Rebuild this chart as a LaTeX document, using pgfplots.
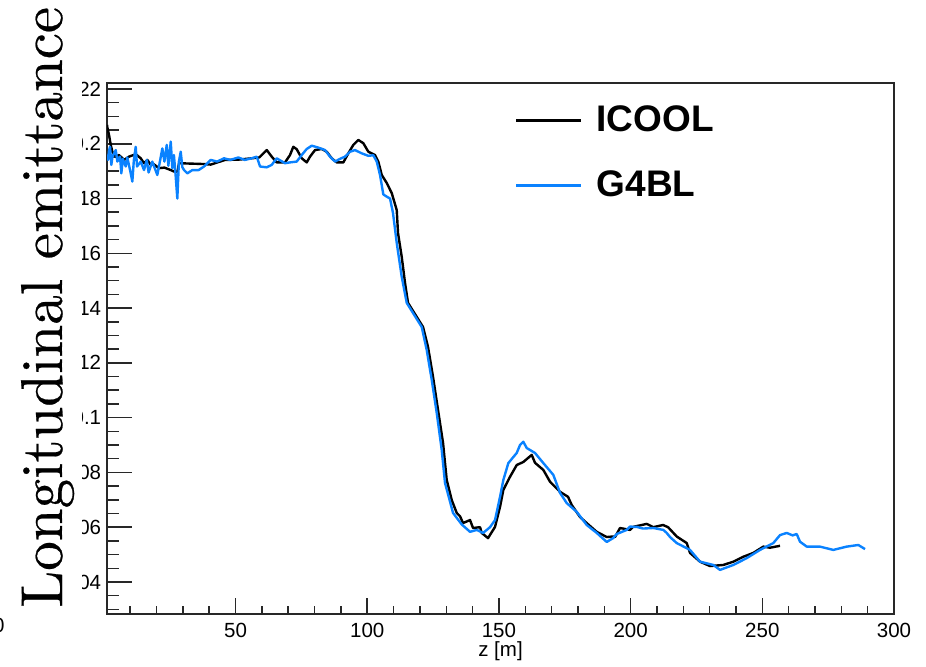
\documentclass[border=0pt]{standalone}
\usepackage{fontspec}
\usepackage{pgfplots}
\pgfplotsset{compat=1.18}
\newfontfamily\helv{Liberation Sans}
\newfontfamily\lmten[FakeBold=0.4]{lmroman10-regular.otf}
\definecolor{gblue}{RGB}{10,130,255}
\definecolor{frame}{RGB}{40,40,40}

\begin{document}
\begin{tikzpicture}[x=1pt,y=1pt]
\begin{axis}[
  at={(53.5pt,26.5pt)}, anchor=south west,
  scale only axis, width=393.5pt, height=265.5pt,
  xmin=1.2, xmax=300, ymin=0.0283, ymax=0.2222,
  axis line style={frame, line width=0.75pt},
  tick align=inside,
  ytick pos=left, xtick=\empty,
  ytick={0.04,0.06,0.08,0.10,0.12,0.14,0.16,0.18,0.20,0.22},
  yticklabels={0.04,0.06,0.08,0.1,0.12,0.14,0.16,0.18,0.2,0.22},
  minor ytick={0.03,0.035,0.045,0.05,0.055,0.065,0.07,0.075,0.085,0.09,0.095,0.105,0.11,0.115,0.125,0.13,0.135,0.145,0.15,0.155,0.165,0.17,0.175,0.185,0.19,0.195,0.205,0.21,0.215},
  major tick length=12.5pt, minor tick length=6pt,
  tick style={frame, line width=0.75pt},
  yticklabel style={font=\helv\fontsize{10.25}{12}\selectfont, inner sep=0pt, xshift=-2.75pt},
  legend cell align=left,
  legend style={at={(0.518,0.957)}, anchor=north west, draw=none, fill=none,
    inner sep=0pt, outer sep=0pt, row sep=18pt, column sep=7pt,
    nodes={inner sep=0pt},
    font=\helv\bfseries\fontsize{18.5}{20}\selectfont},
  legend image code/.code={\draw[#1, line width=1.5pt] (0pt,0pt) -- (32.5pt,0pt);},
]
\addplot[black, line width=1.2pt, line join=round] coordinates {
(1.21,0.2069) (1.33,0.2060) (1.97,0.2032) (2.62,0.1996) (3.23,0.1971) (4.52,0.1953)
(5.77,0.1959) (7.67,0.1941) (9.57,0.1953) (12.11,0.1962) (14.01,0.1947) (15.26,0.1929)
(16.51,0.1941) (17.81,0.1923) (19.0,0.1925) (20.96,0.1911) (23.0,0.1913) (25.40,0.1904)
(27.30,0.1896) (28.0,0.1900) (28.55,0.1929) (38.04,0.1926) (40.58,0.1924) (46.01,0.1941)
(51.06,0.1942) (56.15,0.1947) (59.0,0.1950) (61.85,0.1977) (63.74,0.1953) (65.64,0.1932)
(68.79,0.1932) (70.69,0.1959) (71.94,0.1989) (73.23,0.1980) (75.13,0.1947) (77.03,0.1932)
(78.28,0.1953) (80.18,0.1977) (82.73,0.1981) (84.62,0.1971) (86.52,0.1947) (88.42,0.1932)
(90.93,0.1932) (92.82,0.1965) (94.72,0.1996) (96.62,0.2014) (98.52,0.2002) (100.42,0.1971)
(102.96,0.1959) (104.21,0.1935) (105.51,0.1886) (107.40,0.1857) (109.30,0.1820) (111.20,0.1758)
(111.69,0.1674) (113.10,0.1587) (114.35,0.1492) (115.49,0.1419) (118.79,0.1368) (121.18,0.1331)
(123.08,0.1258) (124.98,0.1149) (126.88,0.1028) (128.78,0.0908) (130.18,0.0772) (132.08,0.0699)
(133.98,0.0652) (135.23,0.0640) (136.37,0.0615) (139.03,0.0626) (140.17,0.0597) (142.83,0.0600)
(143.47,0.0579) (145.86,0.0560) (148.52,0.0601) (150.42,0.0674) (151.67,0.0736) (154.21,0.0784)
(156.76,0.0827) (159.26,0.0838) (162.45,0.0864) (163.70,0.0835) (166.86,0.0809) (169.40,0.0766)
(173.20,0.0729) (176.23,0.0711) (177.64,0.0681) (180.79,0.0637) (183.33,0.0615) (187.13,0.0583)
(190.93,0.0564) (193.32,0.0566) (194.08,0.0564) (195.98,0.0597) (199.77,0.0590) (200.91,0.0601)
(206.11,0.0612) (208.62,0.0600) (212.30,0.0608) (214.20,0.0600) (217.50,0.0566) (221.30,0.0542)
(222.55,0.0506) (226.35,0.0474) (230.14,0.0458) (235.19,0.0462) (238.99,0.0474) (242.79,0.0492)
(246.58,0.0506) (250.38,0.0529) (252.92,0.0525) (256.72,0.0532)
};
\addlegendentry{ICOOL}
\addplot[gblue, line width=1.2pt, line join=round] coordinates {
(1.21,0.1960) (1.59,0.1941) (1.97,0.1975) (2.35,0.1989) (2.85,0.1923) (3.23,0.1950)
(3.61,0.1959) (4.52,0.1977) (5.13,0.1935) (6.15,0.1953) (6.64,0.1892) (7.2,0.1945)
(8.31,0.1917) (8.9,0.1950) (9.95,0.1904) (10.82,0.1862) (11.4,0.1941) (12.11,0.1989)
(12.6,0.1917) (14.01,0.1935) (15.26,0.1904) (16.3,0.1941) (17.0,0.1895) (18.4,0.1935)
(20.31,0.1886) (21.4,0.1941) (22.21,0.1983) (23.0,0.1935) (23.88,0.1996) (24.5,0.1920)
(25.40,0.2008) (26.0,0.1911) (26.6,0.1959) (27.2,0.1892) (27.90,0.1800) (28.5,0.1935)
(29.19,0.1971) (29.8,0.1915) (30.45,0.1904) (31.70,0.1892) (33.60,0.1904) (36.0,0.1904)
(38.04,0.1917) (40.58,0.1941) (43.0,0.1935) (45.63,0.1947) (48.0,0.1941) (51.06,0.1950)
(53.5,0.1941) (56.15,0.1947) (58.05,0.1953) (59.30,0.1917) (61.85,0.1914) (63.74,0.1923)
(65.64,0.1947) (67.2,0.1938) (68.79,0.1929) (70.69,0.1932) (73.23,0.1935) (75.13,0.1959)
(77.03,0.1981) (78.93,0.1993) (81.44,0.1986) (83.98,0.1977) (85.88,0.1953) (87.78,0.1935)
(89.67,0.1945) (91.57,0.1953) (93.47,0.1971) (95.37,0.1977) (97.91,0.1965) (100.42,0.1956)
(102.32,0.1958) (103.61,0.1935) (104.86,0.1886) (106.11,0.1815) (107.40,0.1807) (108.66,0.1800)
(109.79,0.1747) (111.20,0.1638) (113.10,0.1514) (115.00,0.1419) (117.39,0.1382) (120.69,0.1331)
(122.59,0.1247) (124.49,0.1138) (126.39,0.1017) (128.28,0.0882) (129.54,0.0761) (132.08,0.0670)
(132.57,0.0652) (135.88,0.0610) (139.03,0.0583) (141.57,0.0590) (143.96,0.0579) (145.37,0.0590)
(146.62,0.0600) (148.52,0.0626) (150.42,0.0711) (151.67,0.0772) (153.57,0.0834) (156.76,0.0871)
(158.01,0.0900) (159.26,0.0912) (160.55,0.0889) (163.70,0.0871) (166.86,0.0834) (170.65,0.0791)
(173.20,0.0725) (175.74,0.0688) (179.54,0.0656) (183.33,0.0608) (187.13,0.0579) (190.93,0.0546)
(193.32,0.0560) (194.72,0.0575) (198.52,0.0590) (199.77,0.0602) (202.32,0.0601) (204.71,0.0595)
(208.62,0.0597) (212.41,0.0590) (213.70,0.0579) (214.96,0.0564) (217.50,0.0542) (222.55,0.0517)
(226.35,0.0474) (231.40,0.0462) (233.94,0.0444) (238.99,0.0462) (244.08,0.0487) (249.13,0.0517)
(254.18,0.0542) (256.72,0.0571) (259.26,0.0579) (261.5,0.0570) (263.06,0.0575) (264.31,0.0547)
(266.86,0.0529) (271.87,0.0529) (276.95,0.0517) (282.04,0.0529) (286.45,0.0535) (288.99,0.0520)
};
\addlegendentry{G4BL}
\end{axis}
\begin{axis}[
  at={(53.5pt,26.5pt)}, anchor=south west,
  scale only axis, width=393.5pt, height=265.5pt,
  xmin=1.2, xmax=300, ymin=0.0283, ymax=0.2222,
  axis line style={draw=none},
  tick align=inside, xtick pos=bottom, ytick=\empty,
  xtick={50,100,150,200,250,300},
  xticklabels={50,100,150,200,250,300},
  minor xtick={10,20,30,40,60,70,80,90,110,120,130,140,160,170,180,190,210,220,230,240,260,270,280,290},
  major tick length=8pt, minor tick length=4pt,
  tick style={frame, line width=0.75pt},
  xticklabel style={font=\helv\fontsize{10.25}{12}\selectfont, inner sep=0pt, yshift=-4.5pt},
  xlabel={z [m]},
  xlabel style={at={(axis description cs:0.5,0)}, anchor=base, inner sep=0pt, yshift=-21.35pt,
    font=\helv\fontsize{10.25}{12}\selectfont},
]
\end{axis}
\fill[white] (-5,36) rectangle (41,297);
\node[rotate=90, anchor=base west, inner sep=0pt, font=\lmten\fontsize{29.5}{32}\selectfont] at (31,29.5) {Longitudinal emittance};
\node[anchor=east, inner sep=0pt, font=\helv\fontsize{10.25}{12}\selectfont] at (2.5,21) {0};
\pgfresetboundingbox
\useasboundingbox (0,0) rectangle (463,333.5);
\end{tikzpicture}
\end{document}
